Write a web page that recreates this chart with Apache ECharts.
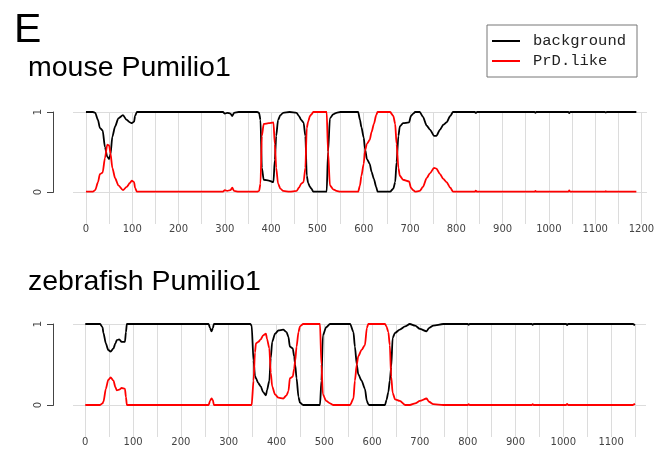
<!DOCTYPE html>
<html>
<head>
<meta charset="utf-8">
<script src="https://cdn.jsdelivr.net/npm/echarts@6/dist/echarts.min.js"></script>
<style>html,body{margin:0;padding:0;background:#fff}#c{width:669px;height:453px}</style>
</head>
<body>
<div id="c"></div>
<script>
// ---- data: mouse Pumilio1 ----
var mousePos = [0,15,20,26,30,36,41,46,50,53,57,63,70,80,88,95,99,104,106,110,200,296,300,305,312,316,320,330,370,374,377,380,384,395,405,408,411,415,420,426,440,455,460,465,470,474,477,480,484,487,491,520,523,527,534,541,550,588,592,595,600,603,607,613,617,622,627,630,657,664,668,671,675,678,685,698,702,707,711,721,728,736,743,752,757,765,772,779,787,793,840,842,845,969,971,973,1042,1044,1046,1121,1123,1125,1189];
var mousePrD = [0,0,0.02,0.12,0.22,0.24,0.42,0.59,0.58,0.48,0.3,0.17,0.08,0.02,0.06,0.11,0.14,0.12,0.05,0,0,0,0.02,0.01,0.02,0.05,0.01,0,0,0.01,0.1,0.7,0.85,0.86,0.87,0.6,0.3,0.1,0.04,0.01,0,0.01,0.05,0.1,0.12,0.3,0.8,0.88,0.95,0.97,1,1,0.5,0.08,0.03,0.01,0,0,0.08,0.2,0.35,0.52,0.6,0.65,0.75,0.85,0.96,1,1,0.95,0.85,0.6,0.3,0.2,0.15,0.13,0.05,0.02,0,0.01,0.06,0.17,0.23,0.3,0.29,0.22,0.16,0.12,0.05,0,0,0.012,0,0,0.01,0,0,0.015,0,0,0.006,0,0];
var mouseBg = [1,1,0.99,0.9,0.8,0.77,0.56,0.44,0.41,0.47,0.69,0.82,0.92,0.96,0.9,0.87,0.86,0.88,0.95,1,1,1,0.98,0.99,0.98,0.95,0.99,1,1,0.99,0.9,0.3,0.15,0.14,0.12,0.4,0.7,0.9,0.96,0.99,1,0.99,0.95,0.9,0.87,0.7,0.2,0.11,0.06,0.04,0,0,0.5,0.92,0.97,0.99,1,1,0.9,0.81,0.68,0.53,0.41,0.35,0.25,0.16,0.06,0,0,0.04,0.12,0.37,0.7,0.82,0.86,0.87,0.95,0.98,1,1,0.94,0.83,0.78,0.7,0.7,0.78,0.84,0.87,0.95,1,1,0.988,1,1,0.99,1,1,0.985,1,1,0.994,1,1];

// ---- data: zebrafish Pumilio1 ----
var zebraPos = [0,31,36,38,43,48,53,59,63,66,71,76,83,85,87,200,258,261,264,267,269,345,348,352,355,357,362,367,372,378,380,385,388,391,397,404,414,421,425,428,434,437,439,442,446,449,456,491,494,497,504,512,519,554,561,564,568,571,578,585,589,592,594,627,630,634,637,640,643,648,658,669,679,690,700,714,719,728,749,800,802,804,934,936,938,1006,1008,1010,1145,1150];
var zebraPrD = [0,0,0.02,0.04,0.2,0.31,0.34,0.3,0.22,0.18,0.19,0.21,0.2,0.1,0,0,0,0.05,0.08,0.06,0,0,0,0.3,0.65,0.76,0.78,0.81,0.86,0.88,0.82,0.7,0.4,0.23,0.13,0.09,0.08,0.12,0.17,0.33,0.35,0.45,0.54,0.72,0.9,0.97,1,1,0.5,0.13,0.05,0.02,0,0,0.08,0.3,0.5,0.6,0.68,0.74,0.95,1,1,1,0.97,0.9,0.74,0.35,0.15,0.07,0.05,0,0,0.02,0.05,0.08,0.04,0.01,0,0,0.01,0,0,0.01,0,0,0.015,0,0,0.015];
var zebraBg = [1,1,0.96,0.89,0.76,0.68,0.66,0.7,0.76,0.8,0.81,0.78,0.78,0.9,1,1,1,0.95,0.91,0.95,1,1,0.98,0.55,0.36,0.33,0.27,0.23,0.16,0.12,0.18,0.3,0.58,0.78,0.88,0.92,0.93,0.9,0.84,0.72,0.7,0.6,0.5,0.33,0.1,0.03,0,0,0.3,0.86,0.96,1,1,1,0.9,0.72,0.5,0.38,0.3,0.2,0.05,0.01,0,0,0.06,0.16,0.3,0.47,0.83,0.89,0.93,0.97,1,0.98,0.94,0.91,0.95,0.98,1,1,0.99,1,1,0.99,1,1,0.985,1,1,0.985];

// ---- tick labels ----
var mouseGridTicks = [0,50,100,150,200,250,300,350,400,450,500,550,600,650,700,750,800,850,900,950,1000,1050,1100,1150,1200];
var mouseLabels = [0,100,200,300,400,500,600,700,800,900,1000,1100,1200];
var zebraGridTicks = [0,50,100,150,200,250,300,350,400,450,500,550,600,650,700,750,800,850,900,950,1000,1050,1100,1150];
var zebraLabels = [0,100,200,300,400,500,600,700,800,900,1000,1100];
var yTickValues = [0, 1];

function pairs(xs, ys) { return xs.map(function (x, i) { return [x, ys[i]]; }); }

var chart = echarts.init(document.getElementById('c'), null, {renderer: 'canvas'});
var gridColor = '#dcdcdc';
var axisColor = '#444444';
var lbl = {fontFamily: 'DejaVu Sans', fontSize: 10, color: '#444'};
var spineGap = 20, tickLen = 6;

function dataX(idx, mn, mx, ticks, labels) {
  return {
    type: 'value', gridIndex: idx, min: mn, max: mx,
    axisLine: {show: false},
    axisTick: {show: false, customValues: ticks},
    axisLabel: Object.assign({customValues: labels, margin: 0, formatter: function (v) { return String(v); }}, lbl),
    splitLine: {show: true, lineStyle: {color: gridColor, width: 1}}
  };
}
function hiddenX(idx, mn, mx) { return {type: 'value', gridIndex: idx, min: mn, max: mx, show: false}; }
function dataY(idx, mn) { return {type: 'value', gridIndex: idx, min: mn, max: 1, show: false, splitLine: {show: false}}; }
function bracketY(idx) {
  return {
    type: 'value', gridIndex: idx, min: 0, max: 1, interval: 1, offset: spineGap,
    axisLine: {show: true, onZero: false, lineStyle: {color: axisColor, width: 1}},
    axisTick: {show: true, inside: false, length: tickLen, lineStyle: {color: axisColor, width: 1}},
    axisLabel: Object.assign({rotate: 90, margin: 10}, lbl),
    splitLine: {show: true, lineStyle: {color: gridColor, width: 1}}
  };
}
function line(name, xi, yi, data, color) {
  return {name: name, type: 'line', xAxisIndex: xi, yAxisIndex: yi, data: data,
    showSymbol: false, symbol: 'none', smooth: 0.25, smoothMonotone: 'x',
    lineStyle: {color: color, width: 1.8}, itemStyle: {color: color}, z: 3, animation: false};
}
// R-style y-axis bracket, positioned through the axis scales of the panel
function spineSeries(xi, yi, xMin) {
  return {
    type: 'custom', name: 'axis', xAxisIndex: xi, yAxisIndex: yi, clip: false, silent: true, z: 20,
    data: [[xMin, yTickValues[0], yTickValues[1]]],
    renderItem: function (params, api) {
      var p0 = api.coord([api.value(0), api.value(1)]);
      var p1 = api.coord([api.value(0), api.value(2)]);
      var x = Math.round(p0[0]) - spineGap + 0.5;
      var y0 = Math.round(p0[1]) + 0.5, y1 = Math.round(p1[1]) + 0.5;
      return {
        type: 'polyline',
        shape: {points: [[x - tickLen, y1], [x, y1], [x, y0], [x - tickLen, y0]]},
        style: {stroke: axisColor, lineWidth: 1, fill: 'none'}
      };
    }
  };
}

chart.setOption({
  animation: false,
  title: [
    {text: 'E', left: 9, top: 5, padding: 5, textStyle: {fontFamily: 'Liberation Sans', fontSize: 41, fontWeight: 'normal', color: '#000'}},
    {text: 'mouse Pumilio1', left: 23, top: 49, textStyle: {fontFamily: 'Liberation Sans', fontSize: 28.5, fontWeight: 'normal', color: '#000'}},
    {text: 'zebrafish Pumilio1', left: 23, top: 263, textStyle: {fontFamily: 'Liberation Sans', fontSize: 28.5, fontWeight: 'normal', color: '#000'}}
  ],
  legend: {
    data: ['background', 'PrD.like'], orient: 'vertical', left: 487, top: 25,
    icon: 'rect', itemWidth: 28, itemHeight: 2, itemGap: 4,
    padding: [8, 11, 8, 5], borderColor: '#777', borderWidth: 1,
    textStyle: {fontFamily: 'Liberation Mono', fontSize: 15.5, color: '#222', padding: [0, 0, 0, 8]}
  },
  grid: [
    {left: 73, top: 112, width: 574, height: 112},
    {left: 73, top: 112, width: 574, height: 80},
    {left: 73, top: 324, width: 573, height: 113},
    {left: 73, top: 324, width: 573, height: 81}
  ],
  xAxis: [
    dataX(0, -28, 1212, mouseGridTicks, mouseLabels),
    hiddenX(1, -28, 1212),
    dataX(2, -25.7, 1173, zebraGridTicks, zebraLabels),
    hiddenX(3, -25.7, 1173)
  ],
  yAxis: [
    dataY(0, -0.405),
    bracketY(1),
    dataY(2, -0.395),
    bracketY(3)
  ],
  series: [
    line('background', 0, 0, pairs(mousePos, mouseBg), '#000000'),
    line('PrD.like', 0, 0, pairs(mousePos, mousePrD), '#ff0000'),
    line('background', 2, 2, pairs(zebraPos, zebraBg), '#000000'),
    line('PrD.like', 2, 2, pairs(zebraPos, zebraPrD), '#ff0000'),
    spineSeries(1, 1, -28),
    spineSeries(3, 3, -25.7)
  ]
});
</script>
</body>
</html>
